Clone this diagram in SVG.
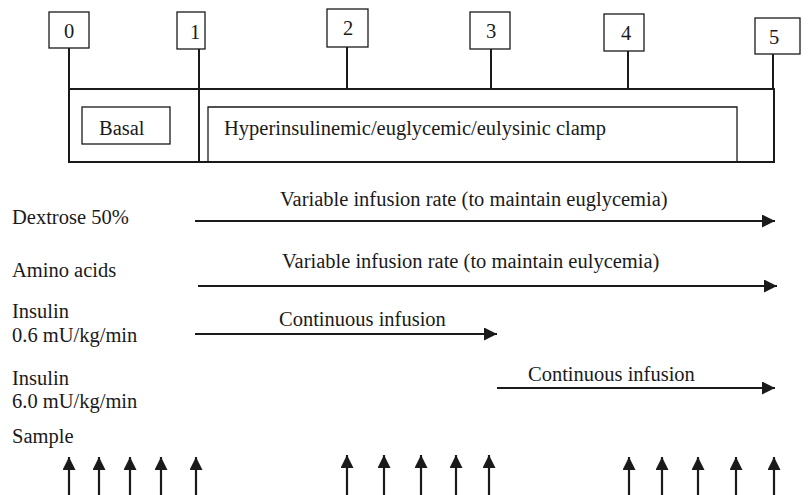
<svg xmlns="http://www.w3.org/2000/svg" width="811" height="495" viewBox="0 0 811 495">
<style>
text{font-family:'Liberation Serif','Times New Roman','DejaVu Serif',serif;font-size:20.5px;fill:#1a1a1a}
.box{fill:none;stroke:#1a1a1a;stroke-width:1.3}
.frame{fill:none;stroke:#1a1a1a;stroke-width:2}
.ln{stroke:#1a1a1a;stroke-width:2;fill:none}
.arr{stroke:#1a1a1a;stroke-width:2.2;fill:none;marker-end:url(#ah)}
.c{text-anchor:middle}
</style>
<defs>
<marker id="ah" markerUnits="userSpaceOnUse" markerWidth="13" markerHeight="13" refX="13" refY="6.5" orient="auto">
<path d="M0,0 L13,6.5 L0,13 z" fill="#1a1a1a"/>
</marker>
</defs>
<rect width="811" height="495" fill="#fff"/>
<g id="tp0"><rect class="box" x="49" y="12" width="40" height="36"/><text class="c" x="69" y="38" font-family="Liberation Serif, serif">0</text></g>
<g id="tp1"><rect class="box" x="177" y="12" width="28" height="37"/><text class="c" x="195" y="39" font-family="Liberation Serif, serif">1</text></g>
<g id="tp2"><rect class="box" x="327" y="9" width="41" height="38"/><text class="c" x="348" y="35" font-family="Liberation Serif, serif">2</text></g>
<g id="tp3"><rect class="box" x="470" y="12" width="40" height="37"/><text class="c" x="491" y="38" font-family="Liberation Serif, serif">3</text></g>
<g id="tp4"><rect class="box" x="604" y="14" width="40" height="37"/><text class="c" x="626" y="40" font-family="Liberation Serif, serif">4</text></g>
<g id="tp5"><rect class="box" x="755" y="18" width="45" height="36"/><text class="c" x="774" y="44" font-family="Liberation Serif, serif">5</text></g>
<g id="timeline"><rect class="frame" x="69" y="89" width="705" height="73"/></g>
<g id="basal"><rect class="box" x="82" y="107" width="88" height="37"/><text x="99" y="135" font-family="Liberation Serif, serif">Basal</text></g>
<g id="clamp"><path class="box" d="M208,162 V107 H737 V162"/><text x="224" y="135" font-family="Liberation Serif, serif">Hyperinsulinemic/euglycemic/eulysinic clamp</text></g>
<g id="labels" font-family="Liberation Serif, serif">
<text x="12" y="224">Dextrose 50%</text>
<text x="12" y="277">Amino acids</text>
<text x="12" y="318">Insulin</text>
<text x="12" y="342">0.6 mU/kg/min</text>
<text x="12" y="385">Insulin</text>
<text x="12" y="408">6.0 mU/kg/min</text>
<text x="12" y="443">Sample</text>
<text x="280" y="206">Variable infusion rate (to maintain euglycemia)</text>
<text x="282" y="268">Variable infusion rate (to maintain eulycemia)</text>
<text x="279" y="326">Continuous infusion</text>
<text x="528" y="381">Continuous infusion</text>
</g>
<g id="connectors">
<line class="ln" x1="69" y1="48" x2="69" y2="89"/>
<line class="ln" x1="199" y1="49" x2="199" y2="162"/>
<line class="ln" x1="347" y1="47" x2="347" y2="89"/>
<line class="ln" x1="491" y1="49" x2="491" y2="89"/>
<line class="ln" x1="628" y1="51" x2="628" y2="89"/>
<line class="ln" x1="773" y1="54" x2="773" y2="89"/>
<line class="arr" x1="195" y1="221" x2="775" y2="221"/>
<line class="arr" x1="198" y1="286" x2="777" y2="286"/>
<line class="arr" x1="195" y1="334" x2="497" y2="334"/>
<line class="arr" x1="497" y1="388" x2="775" y2="388"/>
<line class="arr" x1="69" y1="495" x2="69" y2="457"/>
<line class="arr" x1="99" y1="495" x2="99" y2="457"/>
<line class="arr" x1="130" y1="495" x2="130" y2="457"/>
<line class="arr" x1="161" y1="495" x2="161" y2="457"/>
<line class="arr" x1="196" y1="495" x2="196" y2="457"/>
<line class="arr" x1="347" y1="495" x2="347" y2="455"/>
<line class="arr" x1="384" y1="495" x2="384" y2="455"/>
<line class="arr" x1="421" y1="495" x2="421" y2="455"/>
<line class="arr" x1="456" y1="495" x2="456" y2="455"/>
<line class="arr" x1="489" y1="495" x2="489" y2="455"/>
<line class="arr" x1="629" y1="495" x2="629" y2="457"/>
<line class="arr" x1="662" y1="495" x2="662" y2="457"/>
<line class="arr" x1="698" y1="495" x2="698" y2="457"/>
<line class="arr" x1="736" y1="495" x2="736" y2="457"/>
<line class="arr" x1="774" y1="495" x2="774" y2="457"/>
</g>
</svg>
